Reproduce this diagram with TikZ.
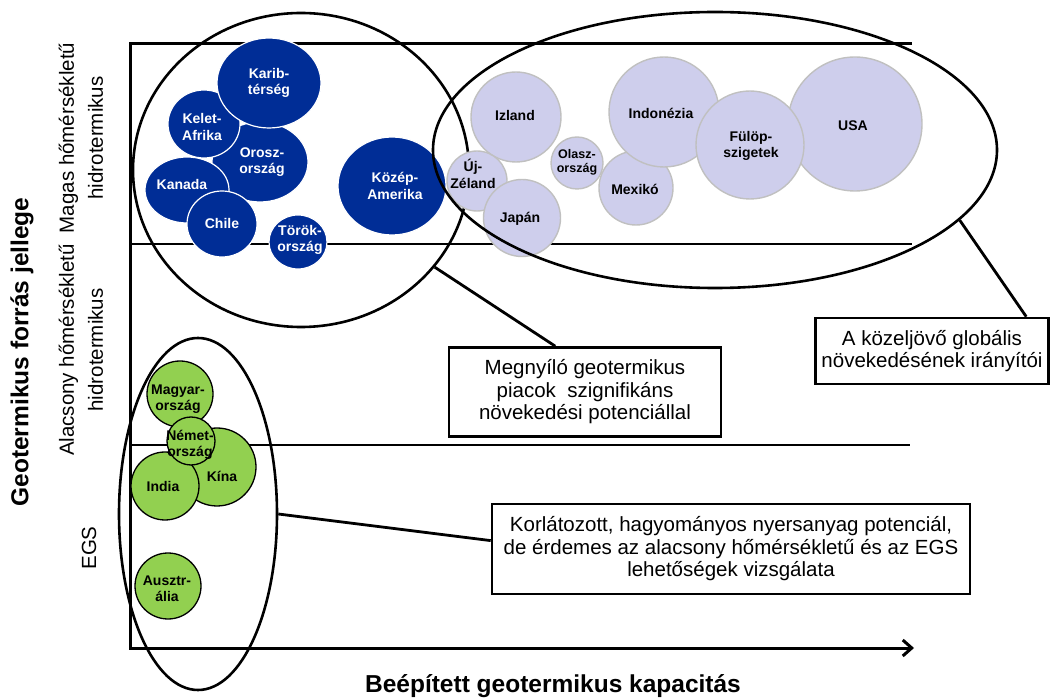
\documentclass[tikz,border=0pt]{standalone}
\usepackage{fontspec}
\setmainfont{Liberation Sans}
\usetikzlibrary{shapes.geometric,arrows.meta}
\definecolor{hotblue}{RGB}{0,45,150}
\definecolor{lavfill}{RGB}{206,206,236}
\definecolor{lavline}{RGB}{192,192,192}
\definecolor{egsgreen}{RGB}{146,208,80}

\begin{document}
\begin{tikzpicture}[%
        x = 1pt, y = -1pt,
        band/.style = {line width=2.8pt},
        grp/.style = {draw, ellipse, line width=2.6pt, inner sep=0pt},
        hot/.style = {fill=hotblue, draw=white, line width=1.2pt},
        warm/.style = {fill=lavfill, draw=lavline, line width=1.4pt},
        cool/.style = {fill=egsgreen, draw=black, line width=1.3pt},
        dot/.style = {align=center, font=\bfseries\fontsize{14}{16.5}\selectfont},
        note/.style = {draw, line width=2.6pt, align=center, inner sep=0pt,
                       font=\fontsize{20.5}{22.5}\selectfont},
        side/.style = {rotate=90, align=center, font=\fontsize{20.5}{29}\selectfont}
    ]
      \useasboundingbox (0,0) rectangle (1053,700);
      % axes and bands
      \draw [band, line width=3pt, -{Straight Barb[length=9pt, width=16pt]}]
            (912,44) -- (130,44) -- (130,648) -- (914,648);
      \draw [band] (130,244) -- (912,244);
      \draw [band] (130,445) -- (910,445);
      % left group
      \node [grp, minimum width=336pt, minimum height=314pt] (leftgrp) at (301,170) {};
      % high temperature, emerging
      \draw [hot] (260,162) ellipse [x radius=48, y radius=40];
      \draw [hot] (204,124) ellipse [x radius=36, y radius=34];
      \draw [hot] (269,83) ellipse [x radius=52, y radius=45];
      \draw [hot] (187,190) ellipse [x radius=42, y radius=33];
      \draw [hot] (222,224) ellipse [x radius=35, y radius=33];
      \draw [hot] (298,242) ellipse [x radius=29, y radius=27];
      \draw [hot] (392,186) ellipse [x radius=54, y radius=49];
      % high temperature, drivers
      \draw [warm] (516,117) circle [radius=45];
      \draw [warm] (477,181) circle [radius=30];
      \draw [warm] (522,218) circle [radius=38.5];
      \draw [warm] (577,163) circle [radius=26];
      \draw [warm] (636,188) circle [radius=37];
      \draw [warm] (664,112) circle [radius=55];
      \draw [warm] (855,124) circle [radius=67];
      \draw [warm] (750,145) circle [radius=54];
      \node [grp, minimum width=564pt, minimum height=276pt] (rightgrp) at (715,150) {};
      % low temperature and EGS
      \draw [cool] (217,467) circle [radius=39];
      \draw [cool] (180,394) circle [radius=33];
      \draw [cool] (165,486) circle [radius=34];
      \draw [cool] (191,441) circle [radius=24];
      \draw [cool] (168,586) circle [radius=33];
      \node [grp, minimum width=158pt, minimum height=352pt] (egsgrp) at (198,514) {};
      % labels
      \node [dot, text=white] (karib) at (269,83) {Karib-\\térség};
      \node [dot, text=white] (kelet) at (202,127) {Kelet-\\Afrika};
      \node [dot, text=white] (orosz) at (262,162) {Orosz-\\ország};
      \node [dot, text=white] (kanada) at (182,184) {Kanada};
      \node [dot, text=white] (chile) at (222,223) {Chile};
      \node [dot, text=white] (torok) at (300,240) {Török-\\ország};
      \node [dot, text=white] (kozep) at (395,186) {Közép-\\Amerika};
      \node [dot] (izland) at (515,116) {Izland};
      \node [dot] (zeland) at (473,174) {Új-\\Zéland};
      \node [dot] (japan) at (520,219) {Japán};
      \node [dot, font=\bfseries\fontsize{12.5}{14}\selectfont] (olasz) at (577,162) {Olasz-\\ország};
      \node [dot] (mexiko) at (635,189) {Mexikó};
      \node [dot] (indonezia) at (661,113) {Indonézia};
      \node [dot] (fulop) at (751,146) {Fülöp-\\szigetek};
      \node [dot] (usa) at (853,126) {USA};
      \node [dot] (magyar) at (178,399) {Magyar-\\ország};
      \node [dot] (nemet) at (190,445) {Német-\\ország};
      \node [dot] (kina) at (222,476) {Kína};
      \node [dot] (india) at (163,486) {India};
      \node [dot] (ausztr) at (167,589) {Ausztr-\\ália};
      % notes
      \node [note, minimum width=272pt, minimum height=89pt] (megnyilo) at (585,392)
            {Megnyíló geotermikus\\piacok\ \ szignifikáns\\növekedési potenciállal};
      \node [note, minimum width=233pt, minimum height=66pt] (kozeljovo) at (932,351)
            {A közeljövő globális\\növekedésének irányítói};
      \node [note, minimum width=478pt, minimum height=90pt] (korlat) at (731,549)
            {Korlátozott, hagyományos nyersanyag potenciál,\\ de érdemes az alacsony hőmérsékletű és az EGS\\lehetőségek vizsgálata};
      \draw [band] (leftgrp.324) -- (megnyilo.123);
      \draw [band] (rightgrp.344) -- (kozeljovo.20);
      \draw [band] (egsgrp.0) -- (korlat.178);
      % axis titles
      \node [font=\bfseries\fontsize{24.5}{28}\selectfont] (xtitle) at (553,686) {Beépített geotermikus kapacitás};
      \node [rotate=90, font=\bfseries\fontsize{24.5}{28}\selectfont] (ytitle) at (22,352) {Geotermikus forrás jellege};
      \node [side] (magas) at (81,138) {Magas hőmérsékletű\\hidrotermikus};
      \node [side] (alacsony) at (81,350) {Alacsony hőmérsékletű\\hidrotermikus};
      \node [side] (egs) at (89,548) {EGS};
    \end{tikzpicture}
\end{document}
